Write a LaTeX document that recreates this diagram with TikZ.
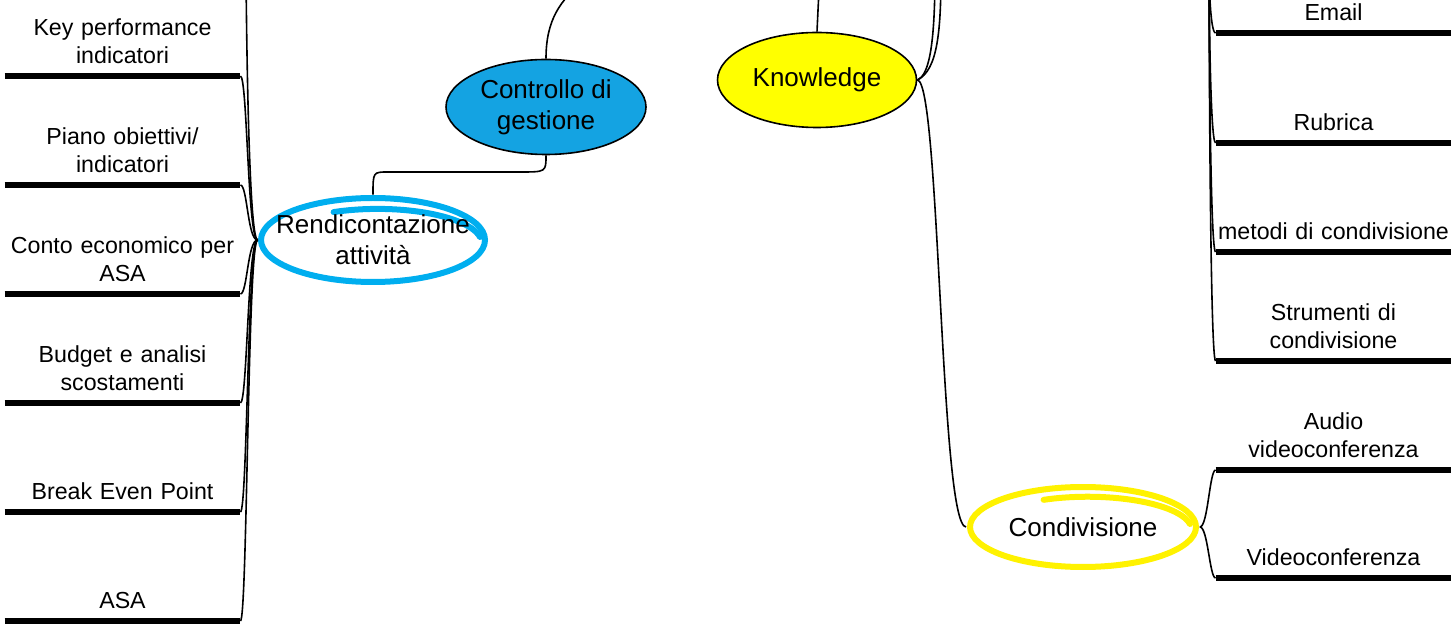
\documentclass[tikz,border=0pt]{standalone}
\usepackage{fontspec}
\setmainfont{Liberation Sans}
\usetikzlibrary{shapes.geometric}

\definecolor{ctrlblue}{RGB}{20,163,226}
\definecolor{rendblue}{RGB}{0,174,239}
\definecolor{knowyellow}{RGB}{255,255,0}
\definecolor{condyellow}{RGB}{255,242,0}

\tikzset{
  conn/.style={line width=0.8pt},
  bar/.style={line width=3pt},
  leaf/.style={anchor=south, text width=117.5pt, align=center, inner xsep=0pt,
    inner ysep=6pt, font=\fontsize{11.6}{14}\selectfont},
  topic/.style={ellipse, inner sep=0pt, align=center, font=\fontsize{13}{15.5}\selectfont},
  hand/.style={line width=3pt, line cap=round},
}

\begin{document}
\begin{tikzpicture}[x=0.5pt,y=-0.5pt]
    \useasboundingbox (0,0) rectangle (1456,625);
    \clip (0,0) rectangle (1456,625);

    \draw[hand, rendblue] (373,240) ellipse [x radius=112, y radius=42];
    \draw[hand, rendblue] (480,237) arc[start angle=-10, end angle=-115, x radius=104, y radius=34];
    \draw[hand, condyellow] (1083,527) ellipse [x radius=113, y radius=40];
    \draw[hand, condyellow] (1190,524) arc[start angle=-10, end angle=-115, x radius=104, y radius=33];

    \node[topic, fill=ctrlblue, draw, line width=0.8pt, minimum width=100pt, minimum height=47.5pt] (ctrl) at (546,107) {Controllo di\\gestione};
    \node[topic, inner xsep=-10pt, minimum width=115pt, minimum height=45pt] (rend) at (373,240) {Rendicontazione\\attività};
    \node[topic, fill=knowyellow, draw, line width=0.8pt, minimum width=99.5pt, minimum height=47.5pt] (know) at (817,80) {Knowledge};
    \node[topic, minimum width=116.5pt, minimum height=43pt] (cond) at (1083,527) {Condivisione};

    \node[leaf] (kpi) at (122.5,76) {Key performance\\indicatori};
    \node[leaf] (piano) at (122.5,185) {Piano obiettivi/\\indicatori};
    \node[leaf] (conto) at (122.5,294) {Conto economico per\\ASA};
    \node[leaf] (budget) at (122.5,403) {Budget e analisi\\scostamenti};
    \node[leaf] (bep) at (122.5,512) {Break Even Point};
    \node[leaf] (asa) at (122.5,621) {ASA};

    \node[leaf] (email) at (1333.5,33) {Email};
    \node[leaf] (rubrica) at (1333.5,143) {Rubrica};
    \node[leaf] (metodi) at (1333.5,252) {metodi di condivisione};
    \node[leaf] (strumenti) at (1333.5,361) {Strumenti di\\condivisione};
    \node[leaf] (audio) at (1333.5,470) {Audio\\videoconferenza};
    \node[leaf] (video) at (1333.5,578) {Videoconferenza};

    \foreach \n in {kpi,piano,conto,budget,bep,asa,email,rubrica,metodi,strumenti,audio,video}
      \draw[bar] (\n.south west) -- (\n.south east);

    \coordinate (upL) at (246,-30);
    \coordinate (upC) at (585,-20);
    \coordinate (upK) at (820,-30);
    \coordinate (upA) at (935,-30);
    \coordinate (upB) at (941,-30);
    \coordinate (upR) at (1209,-30);

    \draw[conn] (rend.west) .. controls ([xshift=-5pt]rend.west) and (upL) .. (upL);
    \foreach \n in {kpi,piano,conto,budget,bep,asa}
      \draw[conn] (rend.west) .. controls ([xshift=-5pt]rend.west) and ([xshift=3.5pt]\n.south east) .. (\n.south east);

    \draw[conn] (ctrl.north) .. controls (546,20) and (560,0) .. (upC);
    \draw[conn] (ctrl.south) .. controls (546,172) .. (520,172) -- (388,172) .. controls (373,172) .. (rend.north);

    \draw[conn] (know.north) .. controls (818,10) .. (upK);
    \draw[conn] (know.east) .. controls (930,75) and (935,40) .. (upA);
    \draw[conn] (know.east) .. controls (938,70) and (941,30) .. (upB);
    \draw[conn] (know.east) .. controls (940,80) and (940,527) .. (cond.west);

    \foreach \n in {email,rubrica,metodi,strumenti}
      \draw[conn] (upR) .. controls (upR) and ([xshift=-3pt]\n.south west) .. (\n.south west);
    \foreach \n in {audio,video}
      \draw[conn] (cond.east) .. controls ([xshift=4pt]cond.east) and ([xshift=-3pt]\n.south west) .. (\n.south west);
\end{tikzpicture}
\end{document}
